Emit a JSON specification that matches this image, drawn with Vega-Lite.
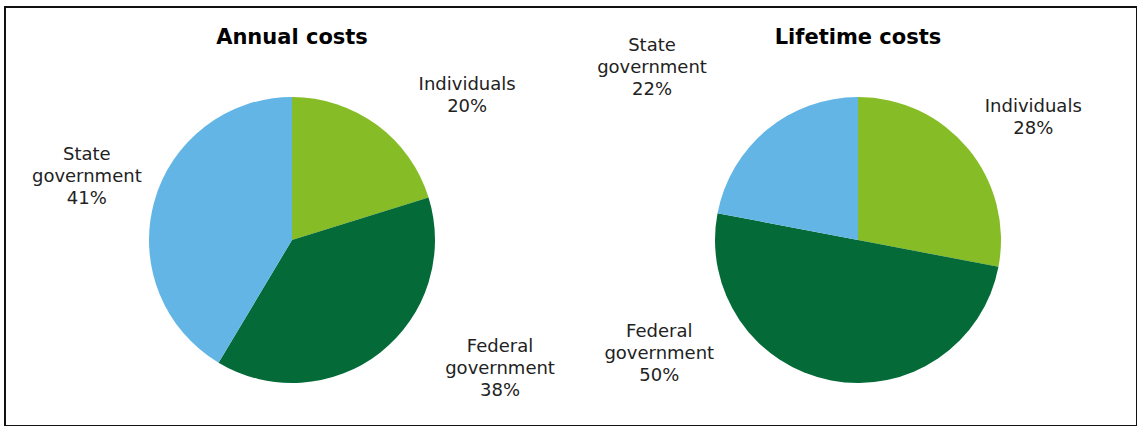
{
  "$schema": "https://vega.github.io/schema/vega-lite/v6.json",
  "width": 1132,
  "height": 419,
  "autosize": {"type": "none"},
  "padding": {"left": 5, "top": 7, "right": 0, "bottom": 0},
  "background": "white",
  "view": {"stroke": "#111111", "strokeWidth": 2},
  "config": {"font": "DejaVu Sans"},
  "datasets": {
    "slices": [
      {"chart": "Annual costs", "group": "Individuals", "rank": 1, "value": 20, "label": "Individuals\n20%"},
      {"chart": "Annual costs", "group": "Federal government", "rank": 2, "value": 38, "label": "Federal\ngovernment\n38%"},
      {"chart": "Annual costs", "group": "State government", "rank": 3, "value": 41, "label": "State\ngovernment\n41%"},
      {"chart": "Lifetime costs", "group": "Individuals", "rank": 1, "value": 28, "label": "Individuals\n28%"},
      {"chart": "Lifetime costs", "group": "Federal government", "rank": 2, "value": 50, "label": "Federal\ngovernment\n50%"},
      {"chart": "Lifetime costs", "group": "State government", "rank": 3, "value": 22, "label": "State\ngovernment\n22%"}
    ],
    "titles": [
      {"chart": "Annual costs"},
      {"chart": "Lifetime costs"}
    ]
  },
  "resolve": {"scale": {"theta": "independent"}},
  "layer": [
    {
      "data": {"name": "slices"},
      "transform": [{"filter": "datum.chart === 'Annual costs'"}],
      "mark": {"type": "arc", "radius": 143},
      "encoding": {
        "x": {"field": "chart", "type": "nominal", "scale": {"domain": ["Annual costs", "Lifetime costs"], "range": [287, 853], "padding": 0}, "axis": null},
        "y": {"datum": "pie", "type": "nominal", "scale": {"domain": ["title", "pie"], "range": [30.5, 233], "padding": 0}, "axis": null},
        "theta": {"field": "value", "type": "quantitative", "stack": true},
        "order": {"field": "rank", "type": "quantitative"},
        "color": {"field": "group", "type": "nominal", "scale": {"domain": ["Individuals", "Federal government", "State government"], "range": ["#86BC25", "#046A38", "#62B5E5"]}, "legend": null}
      }
    },
    {
      "data": {"name": "slices"},
      "transform": [{"filter": "datum.chart === 'Lifetime costs'"}],
      "mark": {"type": "arc", "radius": 143},
      "encoding": {
        "x": {"field": "chart", "type": "nominal"},
        "y": {"datum": "pie", "type": "nominal"},
        "theta": {"field": "value", "type": "quantitative", "stack": true},
        "order": {"field": "rank", "type": "quantitative"},
        "color": {"field": "group", "type": "nominal"}
      }
    },
    {
      "data": {"name": "slices"},
      "transform": [{"filter": "datum.chart === 'Annual costs'"}],
      "mark": {"type": "text", "radius": 234, "thetaOffset": 0.211, "fontSize": 18, "lineHeight": 22, "lineBreak": "\n", "color": "#222222", "align": "center", "baseline": "middle"},
      "encoding": {
        "x": {"field": "chart", "type": "nominal"},
        "y": {"datum": "pie", "type": "nominal"},
        "theta": {"field": "value", "type": "quantitative", "stack": true},
        "order": {"field": "rank", "type": "quantitative"},
        "text": {"condition": {"test": "datum.group === 'Individuals'", "field": "label"}, "value": ""}
      }
    },
    {
      "data": {"name": "slices"},
      "transform": [{"filter": "datum.chart === 'Annual costs'"}],
      "mark": {"type": "text", "radius": 234, "thetaOffset": -0.429, "fontSize": 18, "lineHeight": 22, "lineBreak": "\n", "color": "#222222", "align": "center", "baseline": "middle"},
      "encoding": {
        "x": {"field": "chart", "type": "nominal"},
        "y": {"datum": "pie", "type": "nominal"},
        "theta": {"field": "value", "type": "quantitative", "stack": true},
        "order": {"field": "rank", "type": "quantitative"},
        "text": {"condition": {"test": "datum.group === 'Federal government'", "field": "label"}, "value": ""}
      }
    },
    {
      "data": {"name": "slices"},
      "transform": [{"filter": "datum.chart === 'Annual costs'"}],
      "mark": {"type": "text", "radius": 222, "thetaOffset": 0.122, "fontSize": 18, "lineHeight": 22, "lineBreak": "\n", "color": "#222222", "align": "center", "baseline": "middle"},
      "encoding": {
        "x": {"field": "chart", "type": "nominal"},
        "y": {"datum": "pie", "type": "nominal"},
        "theta": {"field": "value", "type": "quantitative", "stack": true},
        "order": {"field": "rank", "type": "quantitative"},
        "text": {"condition": {"test": "datum.group === 'State government'", "field": "label"}, "value": ""}
      }
    },
    {
      "data": {"name": "slices"},
      "transform": [{"filter": "datum.chart === 'Lifetime costs'"}],
      "mark": {"type": "text", "radius": 220, "thetaOffset": 0.042, "fontSize": 18, "lineHeight": 22, "lineBreak": "\n", "color": "#222222", "align": "center", "baseline": "middle"},
      "encoding": {
        "x": {"field": "chart", "type": "nominal"},
        "y": {"datum": "pie", "type": "nominal"},
        "theta": {"field": "value", "type": "quantitative", "stack": true},
        "order": {"field": "rank", "type": "quantitative"},
        "text": {"condition": {"test": "datum.group === 'Individuals'", "field": "label"}, "value": ""}
      }
    },
    {
      "data": {"name": "slices"},
      "transform": [{"filter": "datum.chart === 'Lifetime costs'"}],
      "mark": {"type": "text", "radius": 219, "thetaOffset": 0.949, "fontSize": 18, "lineHeight": 22, "lineBreak": "\n", "color": "#222222", "align": "center", "baseline": "middle"},
      "encoding": {
        "x": {"field": "chart", "type": "nominal"},
        "y": {"datum": "pie", "type": "nominal"},
        "theta": {"field": "value", "type": "quantitative", "stack": true},
        "order": {"field": "rank", "type": "quantitative"},
        "text": {"condition": {"test": "datum.group === 'Federal government'", "field": "label"}, "value": ""}
      }
    },
    {
      "data": {"name": "slices"},
      "transform": [{"filter": "datum.chart === 'Lifetime costs'"}],
      "mark": {"type": "text", "radius": 283, "thetaOffset": -0.124, "fontSize": 18, "lineHeight": 22, "lineBreak": "\n", "color": "#222222", "align": "center", "baseline": "middle"},
      "encoding": {
        "x": {"field": "chart", "type": "nominal"},
        "y": {"datum": "pie", "type": "nominal"},
        "theta": {"field": "value", "type": "quantitative", "stack": true},
        "order": {"field": "rank", "type": "quantitative"},
        "text": {"condition": {"test": "datum.group === 'State government'", "field": "label"}, "value": ""}
      }
    },
    {
      "data": {"name": "titles"},
      "mark": {"type": "text", "fontSize": 21, "fontWeight": "bold", "color": "#000000", "align": "center", "baseline": "middle"},
      "encoding": {
        "x": {"field": "chart", "type": "nominal"},
        "y": {"datum": "title", "type": "nominal"},
        "text": {"field": "chart", "type": "nominal"}
      }
    }
  ]
}
